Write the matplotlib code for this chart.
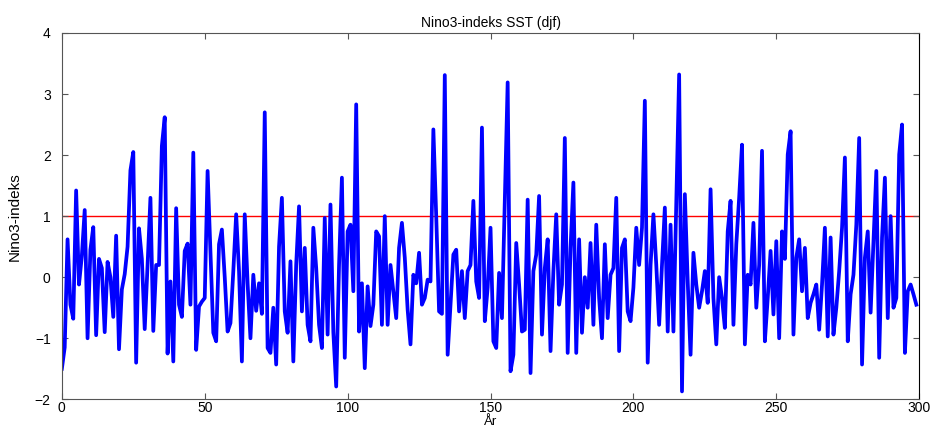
import numpy as np
import matplotlib
matplotlib.use("Agg")
import matplotlib.pyplot as plt

plt.rcParams['font.family'] = ['Liberation Sans', 'DejaVu Sans']

# Nino3 index (djf), one value per year
nino3 = [
    -1.50, -1.15, 0.62, -0.45, -0.68, 1.42, -0.12, 0.35, 1.10, -1.00,
    0.45, 0.82, -0.95, 0.30, 0.15, -0.90, 0.25, 0.00, -0.65, 0.68,
    -1.18, -0.20, 0.05, 0.50, 1.75, 2.05, -1.40, 0.80, 0.30, -0.85,
    0.20, 1.30, -0.88, 0.20, 0.20, 2.15, 2.62, -1.25, -0.07, -1.38,
    1.13, -0.45, -0.65, 0.43, 0.55, -0.45, 2.04, -1.19, -0.48, -0.40,
    -0.34, 1.74, 0.43, -0.91, -1.05, 0.54, 0.78, 0.00, -0.89, -0.75,
    0.10, 1.03, 0.10, -1.38, 1.03, -0.10, -1.00, 0.04, -0.55, -0.10,
    -0.60, 2.70, -1.16, -1.24, -0.50, -1.43, 0.50, 1.30, -0.56, -0.91,
    0.26, -1.38, 0.20, 1.16, -0.56, 0.48, -0.78, -1.05, 0.81, 0.15,
    -0.78, -1.16, 0.97, -0.94, 1.19, -0.90, -1.79, 0.20, 1.63, -1.32,
    0.75, 0.86, -0.23, 2.83, -0.89, -0.10, -1.49, -0.15, -0.80, -0.45,
    0.75, 0.67, -0.78, 1.00, -0.78, 0.20, -0.23, -0.67, 0.48, 0.89,
    0.32, -0.53, -1.10, 0.04, -0.10, 0.40, -0.45, -0.34, -0.04, -0.07,
    2.42, 1.00, -0.56, -0.60, 3.31, -1.27, -0.45, 0.37, 0.45, -0.56,
    0.10, -0.67, 0.10, 0.20, 1.25, -0.07, -0.34, 2.45, -0.72, -0.17,
    0.81, -1.05, -1.16, 0.07, -0.67, 1.25, 3.19, -1.54, -1.27, 0.56,
    -0.12, -0.89, -0.86, 1.27, -1.57, 0.10, 0.37, 1.33, -0.94, 0.15,
    0.62, -1.21, 0.10, 1.03, -0.45, -0.12, 2.28, -1.24, 0.48, 1.55,
    -1.24, 0.62, -0.91, 0.00, -0.50, 0.56, -0.78, 0.86, -0.34, -1.00,
    0.54, -0.67, 0.04, 0.15, 1.30, -1.21, 0.48, 0.62, -0.56, -0.72,
    -0.17, 0.81, 0.20, 0.81, 2.89, -1.40, 0.20, 1.03, 0.20, -0.78,
    0.20, 1.14, -0.89, 0.86, -0.89, 1.19, 3.32, -1.87, 1.36, -0.07,
    -1.27, 0.40, -0.12, -0.50, -0.23, 0.10, -0.42, 1.44, -0.34, -1.10,
    0.00, -0.34, -0.83, 0.75, 1.25, -0.78, 0.54, 1.30, 2.17, -1.10,
    0.04, -0.12, 0.89, -0.50, 0.20, 2.07, -1.05, -0.34, 0.43, -0.61,
    0.59, -1.00, 0.75, 0.30, 2.01, 2.39, -0.94, 0.32, 0.62, -0.23,
    0.48, -0.67, -0.42, -0.28, -0.12, -0.86, -0.12, 0.81, -0.97, 0.65,
    -0.94, -0.50, 0.10, 0.81, 1.96, -1.05, -0.28, 0.04, 0.86, 2.28,
    -1.43, 0.32, 0.75, -0.58, 0.59, 1.74, -1.32, 0.65, 1.63, -0.67,
    1.00, -0.50, -0.34, 2.01, 2.50, -1.24, -0.23, -0.12, -0.28, -0.45,
]
years = np.arange(len(nino3))
threshold = 1.0
xticks = [0, 50, 100, 150, 200, 250, 300]
yticks = [-2, -1, 0, 1, 2, 3, 4]

fig = plt.figure(figsize=(9.37, 4.28), dpi=100)
ax = fig.add_axes([0.066, 0.067, 0.915, 0.856])

# threshold line first, then the index on top
ax.axhline(threshold, color='#ff0000', linewidth=1.0, zorder=1)
ax.plot(years, nino3, color='#0000ff', linewidth=2.7, zorder=2)

ax.set_xlim(0, 300)
ax.set_ylim(-2, 4)
ax.set_xticks(xticks)
ax.set_yticks(yticks)
ax.tick_params(direction='in', top=True, right=True, length=4, labelsize=10,
               color='#555555')
ax.tick_params(axis='x', pad=1)
ax.tick_params(axis='y', pad=8)
for s in ax.spines.values():
    s.set_color('#555555')
    s.set_linewidth(0.8)
ax.spines['right'].set_color('black')

narrow = ['Liberation Sans Narrow', 'Liberation Sans', 'DejaVu Sans']
ax.set_title("Nino3-indeks SST (djf)", fontsize=10, pad=4)
ax.set_xlabel("År", fontsize=9.5, family=narrow)
ax.xaxis.set_label_coords(0.5, -0.062)
ax.xaxis.label.set_va('center')
ax.set_ylabel("Nino3-indeks", fontsize=11, family=narrow)
ax.yaxis.set_label_coords(-0.047, 0.5)

fig.savefig("out.png", dpi=100)
